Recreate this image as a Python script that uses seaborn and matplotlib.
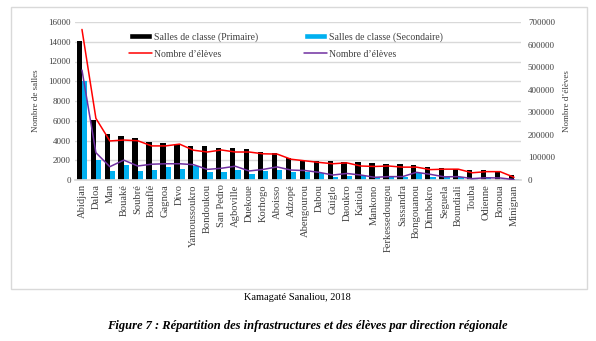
import numpy as np
import pandas as pd
import matplotlib
matplotlib.use("Agg")
import matplotlib.pyplot as plt
import seaborn as sns
from matplotlib.patches import Rectangle, Patch
from matplotlib.lines import Line2D

regions = ["Abidjan", "Daloa", "Man", "Bouaké", "Soubré", "Bouaflé", "Gagnoa", "Divo",
           "Yamoussoukro", "Bondoukou", "San Pedro", "Agboville", "Duekoue", "Korhogo",
           "Aboisso", "Adzopé", "Abengourou", "Dabou", "Guiglo", "Daoukro", "Katiola",
           "Mankono", "Ferkessedougou", "Sassandra", "Bongouanou", "Dimbokro", "Seguela",
           "Boundiali", "Touba", "Odienne", "Bonoua", "Minignan"]

salles_primaire = [14100, 6050, 4700, 4500, 4250, 3800, 3750, 3650,
                   3480, 3450, 3240, 3200, 3140, 2800, 2740, 2260,
                   1960, 1940, 1890, 1820, 1790, 1720, 1650, 1590,
                   1490, 1280, 1250, 1115, 1010, 1040, 840, 470]
salles_secondaire = [10000, 2050, 940, 1520, 940, 1010, 1320, 1150,
                     1450, 840, 780, 1010, 570, 880, 1045, 780,
                     780, 720, 340, 440, 400, 270, 340, 270,
                     710, 340, 300, 340, 170, 270, 135, 70]
eleves_primaire = [667000, 273000, 173000, 177000, 174000, 151000, 151000, 159000,
                   132000, 124000, 133000, 124000, 124000, 116000, 115000, 92000,
                   85000, 78000, 72000, 76000, 62000, 60000, 62000, 57000,
                   57000, 46000, 48000, 48000, 32000, 37000, 37000, 12000]
eleves_secondaire = [487000, 121000, 59000, 88000, 62000, 70000, 72000, 72000,
                     68000, 47000, 52000, 61000, 40000, 47000, 58000, 44000,
                     42000, 34000, 22000, 29000, 22000, 12000, 15000, 15000,
                     34000, 25000, 14000, 15000, 6000, 10000, 9000, 2000]

lab_p = "Salles de classe (Primaire)"
lab_s = "Salles de classe (Secondaire)"
lab_e = "Nombre d\u2019élèves"

sns.set_theme(style="white")
plt.rcParams["font.family"] = ["Liberation Serif", "DejaVu Serif"]

W, H = 596, 341
fig = plt.figure(figsize=(W / 100, H / 100), dpi=100)
ax = fig.add_axes([75 / W, 1 - 180 / H, 446 / W, 158 / H])

df = pd.DataFrame({
    "region": regions * 2,
    "salles": salles_primaire + salles_secondaire,
    "type": [lab_p] * len(regions) + [lab_s] * len(regions),
})
sns.barplot(data=df, x="region", y="salles", hue="type", order=regions,
            palette={lab_p: "#000000", lab_s: "#00B0F0"}, width=0.76,
            saturation=1, ax=ax, legend=False, edgecolor="none")

ax.set_xlim(-0.5, len(regions) - 0.5)
ax.set_ylim(0, 16000)
ax.set_yticks(np.arange(0, 16001, 2000))
ax.yaxis.grid(True, color="#d9d9d9", linewidth=1)
ax.set_axisbelow(True)
for s in ["top", "right", "left"]:
    ax.spines[s].set_visible(False)
ax.spines["bottom"].set_color("#d9d9d9")
ax.tick_params(axis="both", length=0, labelsize=6.5, colors="#404040", pad=3)
ax.set_xticks(range(len(regions)))
ax.set_xticklabels(regions, rotation=90, fontsize=7.6, color="#404040")
ax.set_xlabel("")
ax.set_ylabel("Nombre de salles", fontsize=6.5, color="#404040", labelpad=6)

ax2 = ax.twinx()
xpos = np.arange(len(regions))
sns.lineplot(x=xpos, y=eleves_primaire, color="#FF0000", linewidth=1.1, ax=ax2)
sns.lineplot(x=xpos, y=eleves_secondaire, color="#7030A0", linewidth=1.1, ax=ax2)
ax2.set_ylim(0, 700000)
ax2.set_yticks(np.arange(0, 700001, 100000))
ax2.set_xlim(-0.5, len(regions) - 0.5)
for s in ["top", "right", "left", "bottom"]:
    ax2.spines[s].set_visible(False)
ax2.tick_params(axis="y", length=0, labelsize=6.5, colors="#404040", pad=5)
ax2.set_ylabel("Nombre d\u2019élèves", fontsize=6.5, color="#404040", labelpad=6)

handles = [Patch(facecolor="#000000"), Line2D([], [], color="#FF0000", lw=1.1),
           Patch(facecolor="#00B0F0"), Line2D([], [], color="#7030A0", lw=1.1)]
labels = [lab_p, lab_e, lab_s, lab_e]
fig.legend(handles, labels, ncol=2, loc="upper left",
           bbox_to_anchor=(129 / W, 1 - 32 / H), frameon=False,
           fontsize=7, labelcolor="#404040", handlelength=2.4,
           handletextpad=0.2, columnspacing=4.7, labelspacing=0.85,
           borderaxespad=0, borderpad=0)

fig.patches.append(Rectangle((11 / W, 1 - 289 / H), 576 / W, 282 / H,
                             transform=fig.transFigure, fill=False,
                             edgecolor="#d9d9d9", linewidth=1))

fig.text(297 / W, 1 - 298 / H, "Kamagaté Sanaliou, 2018", ha="center",
         va="center", fontsize=7.5, color="#000000")
fig.text(307 / W, 1 - 326 / H,
         "Figure 7 : Répartition des infrastructures et des élèves par direction régionale",
         ha="center", va="center", fontsize=9, fontweight="bold",
         fontstyle="italic", color="#000000")

fig.savefig("out.png", dpi=100)
